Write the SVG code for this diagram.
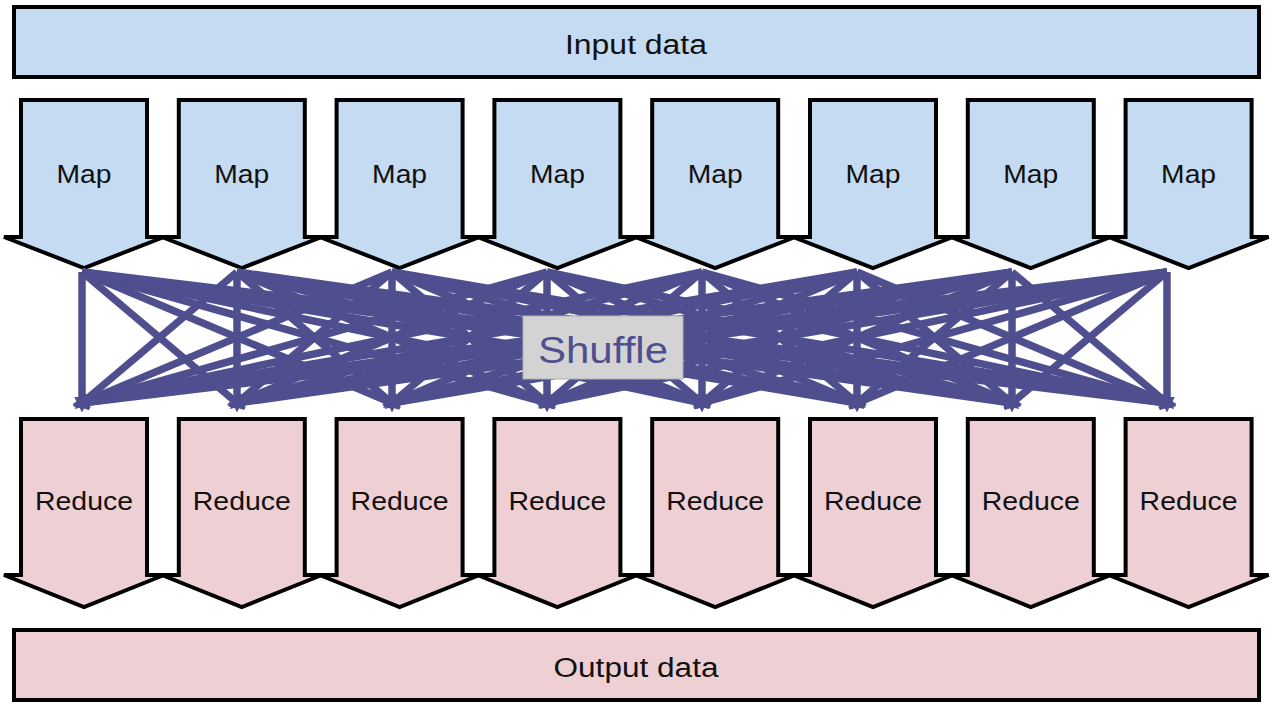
<svg xmlns="http://www.w3.org/2000/svg" width="1278" height="708" viewBox="0 0 1278 708">
<style>
.bar{stroke:#000;stroke-width:4}
.map{fill:#c5dbf2;stroke:#000;stroke-width:4;stroke-linejoin:miter}
.red{fill:#eed0d4;stroke:#000;stroke-width:4;stroke-linejoin:miter}
.lbl{font-family:"Liberation Sans",Arial,sans-serif;fill:#111;text-anchor:middle}
.conn line{stroke:#4f4f8f;stroke-width:7.5;marker-end:url(#ah)}
</style>
<defs>
<marker id="ah" viewBox="0 0 10 10" refX="4" refY="5" markerWidth="2.1" markerHeight="3" orient="auto" markerUnits="strokeWidth">
<path d="M0,0 L10,5 L0,10 z" fill="#4f4f8f"/>
</marker>
</defs>
<rect width="1278" height="708" fill="#fff"/>

<g id="input">
<rect class="bar" x="14" y="7" width="1245" height="70" fill="#c5dbf2"/>
<text class="lbl" x="636" y="54" font-size="27" textLength="142" lengthAdjust="spacingAndGlyphs">Input data</text>
</g>

<g id="map1"><polygon class="map" points="21,100 147,100 147,237 164,237 84,268 4,237 21,237"/><text class="lbl" x="84" y="183" font-size="25" textLength="55" lengthAdjust="spacingAndGlyphs">Map</text></g>
<g id="map2"><polygon class="map" points="178.8,100 304.8,100 304.8,237 321.8,237 241.8,268 161.8,237 178.8,237"/><text class="lbl" x="241.8" y="183" font-size="25" textLength="55" lengthAdjust="spacingAndGlyphs">Map</text></g>
<g id="map3"><polygon class="map" points="336.6,100 462.6,100 462.6,237 479.6,237 399.6,268 319.6,237 336.6,237"/><text class="lbl" x="399.6" y="183" font-size="25" textLength="55" lengthAdjust="spacingAndGlyphs">Map</text></g>
<g id="map4"><polygon class="map" points="494.4,100 620.4,100 620.4,237 637.4,237 557.4,268 477.4,237 494.4,237"/><text class="lbl" x="557.4" y="183" font-size="25" textLength="55" lengthAdjust="spacingAndGlyphs">Map</text></g>
<g id="map5"><polygon class="map" points="652.2,100 778.2,100 778.2,237 795.2,237 715.2,268 635.2,237 652.2,237"/><text class="lbl" x="715.2" y="183" font-size="25" textLength="55" lengthAdjust="spacingAndGlyphs">Map</text></g>
<g id="map6"><polygon class="map" points="810,100 936,100 936,237 953,237 873,268 793,237 810,237"/><text class="lbl" x="873" y="183" font-size="25" textLength="55" lengthAdjust="spacingAndGlyphs">Map</text></g>
<g id="map7"><polygon class="map" points="967.8,100 1093.8,100 1093.8,237 1110.8,237 1030.8,268 950.8,237 967.8,237"/><text class="lbl" x="1030.8" y="183" font-size="25" textLength="55" lengthAdjust="spacingAndGlyphs">Map</text></g>
<g id="map8"><polygon class="map" points="1125.6,100 1251.6,100 1251.6,237 1268.6,237 1188.6,268 1108.6,237 1125.6,237"/><text class="lbl" x="1188.6" y="183" font-size="25" textLength="55" lengthAdjust="spacingAndGlyphs">Map</text></g>

<g id="reduce1"><polygon class="red" points="21,419 147,419 147,575 164,575 84,607 4,575 21,575"/><text class="lbl" x="84" y="510" font-size="25" textLength="98" lengthAdjust="spacingAndGlyphs">Reduce</text></g>
<g id="reduce2"><polygon class="red" points="178.8,419 304.8,419 304.8,575 321.8,575 241.8,607 161.8,575 178.8,575"/><text class="lbl" x="241.8" y="510" font-size="25" textLength="98" lengthAdjust="spacingAndGlyphs">Reduce</text></g>
<g id="reduce3"><polygon class="red" points="336.6,419 462.6,419 462.6,575 479.6,575 399.6,607 319.6,575 336.6,575"/><text class="lbl" x="399.6" y="510" font-size="25" textLength="98" lengthAdjust="spacingAndGlyphs">Reduce</text></g>
<g id="reduce4"><polygon class="red" points="494.4,419 620.4,419 620.4,575 637.4,575 557.4,607 477.4,575 494.4,575"/><text class="lbl" x="557.4" y="510" font-size="25" textLength="98" lengthAdjust="spacingAndGlyphs">Reduce</text></g>
<g id="reduce5"><polygon class="red" points="652.2,419 778.2,419 778.2,575 795.2,575 715.2,607 635.2,575 652.2,575"/><text class="lbl" x="715.2" y="510" font-size="25" textLength="98" lengthAdjust="spacingAndGlyphs">Reduce</text></g>
<g id="reduce6"><polygon class="red" points="810,419 936,419 936,575 953,575 873,607 793,575 810,575"/><text class="lbl" x="873" y="510" font-size="25" textLength="98" lengthAdjust="spacingAndGlyphs">Reduce</text></g>
<g id="reduce7"><polygon class="red" points="967.8,419 1093.8,419 1093.8,575 1110.8,575 1030.8,607 950.8,575 967.8,575"/><text class="lbl" x="1030.8" y="510" font-size="25" textLength="98" lengthAdjust="spacingAndGlyphs">Reduce</text></g>
<g id="reduce8"><polygon class="red" points="1125.6,419 1251.6,419 1251.6,575 1268.6,575 1188.6,607 1108.6,575 1125.6,575"/><text class="lbl" x="1188.6" y="510" font-size="25" textLength="98" lengthAdjust="spacingAndGlyphs">Reduce</text></g>

<g id="output">
<rect class="bar" x="14" y="630" width="1245" height="70" fill="#eed0d4"/>
<text class="lbl" x="636" y="677" font-size="27" textLength="165" lengthAdjust="spacingAndGlyphs">Output data</text>
</g>

<g id="connectors" class="conn">
<line x1="82" y1="272" x2="82" y2="403"/><line x1="82" y1="272" x2="237" y2="403"/><line x1="82" y1="272" x2="392" y2="403"/><line x1="82" y1="272" x2="547" y2="403"/><line x1="82" y1="272" x2="702" y2="403"/><line x1="82" y1="272" x2="857" y2="403"/><line x1="82" y1="272" x2="1012" y2="403"/><line x1="82" y1="272" x2="1167" y2="403"/>
<line x1="237" y1="272" x2="82" y2="403"/><line x1="237" y1="272" x2="237" y2="403"/><line x1="237" y1="272" x2="392" y2="403"/><line x1="237" y1="272" x2="547" y2="403"/><line x1="237" y1="272" x2="702" y2="403"/><line x1="237" y1="272" x2="857" y2="403"/><line x1="237" y1="272" x2="1012" y2="403"/><line x1="237" y1="272" x2="1167" y2="403"/>
<line x1="392" y1="272" x2="82" y2="403"/><line x1="392" y1="272" x2="237" y2="403"/><line x1="392" y1="272" x2="392" y2="403"/><line x1="392" y1="272" x2="547" y2="403"/><line x1="392" y1="272" x2="702" y2="403"/><line x1="392" y1="272" x2="857" y2="403"/><line x1="392" y1="272" x2="1012" y2="403"/><line x1="392" y1="272" x2="1167" y2="403"/>
<line x1="547" y1="272" x2="82" y2="403"/><line x1="547" y1="272" x2="237" y2="403"/><line x1="547" y1="272" x2="392" y2="403"/><line x1="547" y1="272" x2="547" y2="403"/><line x1="547" y1="272" x2="702" y2="403"/><line x1="547" y1="272" x2="857" y2="403"/><line x1="547" y1="272" x2="1012" y2="403"/><line x1="547" y1="272" x2="1167" y2="403"/>
<line x1="702" y1="272" x2="82" y2="403"/><line x1="702" y1="272" x2="237" y2="403"/><line x1="702" y1="272" x2="392" y2="403"/><line x1="702" y1="272" x2="547" y2="403"/><line x1="702" y1="272" x2="702" y2="403"/><line x1="702" y1="272" x2="857" y2="403"/><line x1="702" y1="272" x2="1012" y2="403"/><line x1="702" y1="272" x2="1167" y2="403"/>
<line x1="857" y1="272" x2="82" y2="403"/><line x1="857" y1="272" x2="237" y2="403"/><line x1="857" y1="272" x2="392" y2="403"/><line x1="857" y1="272" x2="547" y2="403"/><line x1="857" y1="272" x2="702" y2="403"/><line x1="857" y1="272" x2="857" y2="403"/><line x1="857" y1="272" x2="1012" y2="403"/><line x1="857" y1="272" x2="1167" y2="403"/>
<line x1="1012" y1="272" x2="82" y2="403"/><line x1="1012" y1="272" x2="237" y2="403"/><line x1="1012" y1="272" x2="392" y2="403"/><line x1="1012" y1="272" x2="547" y2="403"/><line x1="1012" y1="272" x2="702" y2="403"/><line x1="1012" y1="272" x2="857" y2="403"/><line x1="1012" y1="272" x2="1012" y2="403"/><line x1="1012" y1="272" x2="1167" y2="403"/>
<line x1="1167" y1="272" x2="82" y2="403"/><line x1="1167" y1="272" x2="237" y2="403"/><line x1="1167" y1="272" x2="392" y2="403"/><line x1="1167" y1="272" x2="547" y2="403"/><line x1="1167" y1="272" x2="702" y2="403"/><line x1="1167" y1="272" x2="857" y2="403"/><line x1="1167" y1="272" x2="1012" y2="403"/><line x1="1167" y1="272" x2="1167" y2="403"/>
</g>

<g id="shuffle">
<rect x="523" y="316" width="160" height="63" fill="#d3d3d3" stroke="#b0b0b0" stroke-width="1"/>
<text x="603" y="363" font-family="'Liberation Sans',Arial,sans-serif" font-size="37" fill="#4f4f8f" text-anchor="middle" textLength="130" lengthAdjust="spacingAndGlyphs">Shuffle</text>
</g>
</svg>
